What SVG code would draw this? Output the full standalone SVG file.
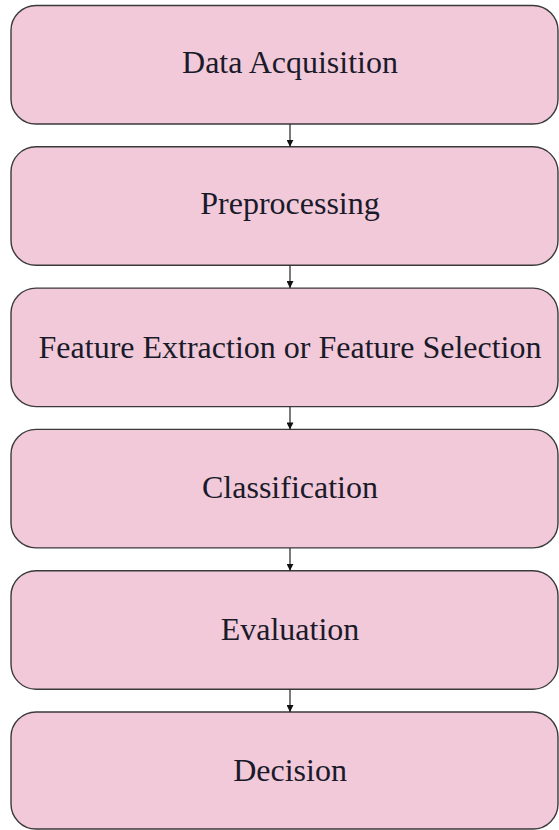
<svg xmlns="http://www.w3.org/2000/svg" width="559" height="830" viewBox="0 0 559 830">
<style>
.box{fill:#f1c9d9;stroke:#3a3a3a;stroke-width:1.4}
.lbl{font-family:"Liberation Serif","Times New Roman",serif;font-size:32px;fill:#1a1a2a;text-anchor:middle}
.conn{stroke:#222;stroke-width:1.2;fill:none;marker-end:url(#ah)}
</style>
<defs>
<marker id="ah" viewBox="0 0 10 10" refX="10" refY="5" markerWidth="7" markerHeight="7" markerUnits="userSpaceOnUse" orient="auto">
<path d="M0,0 L10,5 L0,10 z" fill="#111"/>
</marker>
</defs>
<rect width="559" height="830" fill="#fff"/>
<g id="n1"><rect class="box" x="11" y="5.5" width="547" height="118.5" rx="25"/><text class="lbl" x="290" y="73">Data Acquisition</text></g>
<g id="n2"><rect class="box" x="11" y="146.8" width="547" height="118.5" rx="25"/><text class="lbl" x="290" y="214">Preprocessing</text></g>
<g id="n3"><rect class="box" x="11" y="288.1" width="547" height="118.5" rx="25"/><text class="lbl" x="290" y="358">Feature Extraction or Feature Selection</text></g>
<g id="n4"><rect class="box" x="11" y="429.4" width="547" height="118.5" rx="25"/><text class="lbl" x="290" y="498">Classification</text></g>
<g id="n5"><rect class="box" x="11" y="570.7" width="547" height="118.5" rx="25"/><text class="lbl" x="290" y="640">Evaluation</text></g>
<g id="n6"><rect class="box" x="11" y="712" width="547" height="117" rx="25"/><text class="lbl" x="290" y="781">Decision</text></g>
<g id="connectors">
<line class="conn" x1="290" y1="124" x2="290" y2="146.8"/>
<line class="conn" x1="290" y1="265.3" x2="290" y2="288.1"/>
<line class="conn" x1="290" y1="406.6" x2="290" y2="429.4"/>
<line class="conn" x1="290" y1="547.9" x2="290" y2="570.7"/>
<line class="conn" x1="290" y1="689.2" x2="290" y2="712"/>
</g>
</svg>
